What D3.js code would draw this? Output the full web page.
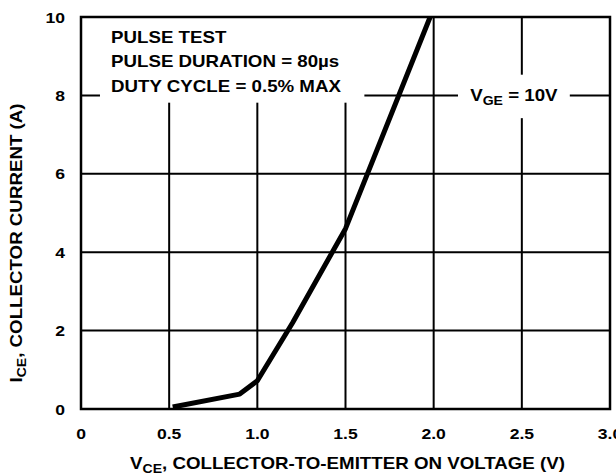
<!DOCTYPE html>
<html lang="en">
<head>
  <meta charset="utf-8">
  <title>Collector Current vs Collector-to-Emitter Voltage</title>
  <script src="https://d3js.org/d3.v7.min.js"></script>
  <style>
    body {
      margin: 0;
      padding: 0;
      background: #fff;
    }
    svg text {
      font-family: "Liberation Sans", Arial, Helvetica, sans-serif;
      font-weight: bold;
      fill: #000;
    }
  </style>
</head>
<body>
  <div id="chart"></div>

  <script>
    // Data (V_CE in volts, I_CE in amps)
    const vce = [0.52, 0.9, 1.0, 1.2, 1.5, 1.98];
    const ice = [0.05, 0.38, 0.72, 2.2, 4.6, 10];

    const xTicks = [0, 0.5, 1.0, 1.5, 2.0, 2.5, 3.0];
    const xTickLabels = ["0", "0.5", "1.0", "1.5", "2.0", "2.5", "3.0"];
    const yTicks = [0, 2, 4, 6, 8, 10];
    const yTickLabels = ["0", "2", "4", "6", "8", "10"];

    const noteLines = ["PULSE TEST", "PULSE DURATION = 80\u00b5s", "DUTY CYCLE = 0.5% MAX"];

    // Layout
    const W = 616, H = 476;
    const margin = { top: 17, right: 6, bottom: 67, left: 81 };
    const width = W - margin.left - margin.right;
    const height = H - margin.top - margin.bottom;
    const SX = 1.17; // the original lettering is wider than Arial bold

    const svg = d3.select("#chart")
      .append("svg")
      .attr("width", W)
      .attr("height", H);

    const g = svg.append("g")
      .attr("transform", `translate(${margin.left},${margin.top})`);

    const x = d3.scaleLinear().domain([0, 3]).range([0, width]);
    const y = d3.scaleLinear().domain([0, 10]).range([height, 0]);

    // place a text at (px, py), stretched horizontally
    function place(sel, px, py, rot) {
      return sel.attr("transform", `translate(${px},${py})` + (rot ? ` rotate(${rot})` : "") + ` scale(${SX},1)`);
    }

    // Grid lines
    g.selectAll(".vgrid")
      .data(xTicks.slice(1, -1))
      .enter()
      .append("line")
      .attr("class", "vgrid")
      .attr("x1", d => x(d)).attr("x2", d => x(d))
      .attr("y1", 0).attr("y2", height)
      .attr("stroke", "#000")
      .attr("stroke-width", 2);

    g.selectAll(".hgrid")
      .data(yTicks.slice(1, -1))
      .enter()
      .append("line")
      .attr("class", "hgrid")
      .attr("x1", 0).attr("x2", width)
      .attr("y1", d => y(d)).attr("y2", d => y(d))
      .attr("stroke", "#000")
      .attr("stroke-width", 2);

    // Test-condition note with white box over the grid
    const noteBox = g.append("rect").attr("fill", "#fff");
    const noteX = x(0.17), noteY = y(10) + 26;
    const note = place(g.append("text"), noteX, noteY)
      .style("font-size", "16px");
    note.selectAll("tspan")
      .data(noteLines)
      .enter()
      .append("tspan")
      .attr("x", 0)
      .attr("dy", (d, i) => i === 0 ? 0 : 24.5)
      .text(d => d);
    const nb = note.node().getBBox();
    noteBox
      .attr("x", noteX - 11)
      .attr("y", 1)
      .attr("width", nb.width * SX + 34)
      .attr("height", noteY + nb.y + nb.height + 6);

    // V_GE label on the 8 A grid line
    const vgeBox = g.append("rect").attr("fill", "#fff");
    const vgeX = x(2.455), vgeY = y(8) + 6;
    const vge = place(g.append("text"), vgeX, vgeY)
      .attr("text-anchor", "middle")
      .style("font-size", "16px");
    vge.append("tspan").text("V");
    vge.append("tspan").attr("dy", 4).style("font-size", "12px").text("GE");
    vge.append("tspan").attr("dy", -4).text(" = 10V");
    const vb = vge.node().getBBox();
    vgeBox
      .attr("x", vgeX - vb.width * SX / 2 - 12)
      .attr("y", vgeY + vb.y - 12)
      .attr("width", vb.width * SX + 24)
      .attr("height", vb.height + 22);

    // Frame
    g.append("rect")
      .attr("x", 0).attr("y", 0)
      .attr("width", width).attr("height", height)
      .attr("fill", "none")
      .attr("stroke", "#000")
      .attr("stroke-width", 2.5);

    // Curve
    const line = d3.line()
      .x((d, i) => x(vce[i]))
      .y((d, i) => y(ice[i]));

    g.append("path")
      .datum(vce)
      .attr("d", line)
      .attr("fill", "none")
      .attr("stroke", "#000")
      .attr("stroke-width", 5)
      .attr("stroke-linejoin", "round");

    // Tick labels
    g.selectAll(".xlab")
      .data(xTicks)
      .enter()
      .append("text")
      .attr("class", "xlab")
      .attr("transform", d => `translate(${x(d)},${height + 30}) scale(${SX},1)`)
      .attr("text-anchor", "middle")
      .style("font-size", "15px")
      .text((d, i) => xTickLabels[i]);

    g.selectAll(".ylab")
      .data(yTicks)
      .enter()
      .append("text")
      .attr("class", "ylab")
      .attr("transform", d => `translate(-16,${y(d) + 5.5}) scale(${SX},1)`)
      .attr("text-anchor", "end")
      .style("font-size", "15px")
      .text((d, i) => yTickLabels[i]);

    // Axis titles
    const xTitle = place(svg.append("text"), margin.left + width / 2 + 2, 469)
      .attr("text-anchor", "middle")
      .style("font-size", "16px");
    xTitle.append("tspan").text("V");
    xTitle.append("tspan").attr("dy", 4).style("font-size", "12px").text("CE");
    xTitle.append("tspan").attr("dy", -4).text(", COLLECTOR-TO-EMITTER ON VOLTAGE (V)");

    const yTitle = place(svg.append("text"), 22, 243, -90)
      .attr("text-anchor", "middle")
      .style("font-size", "16px");
    yTitle.append("tspan").text("I");
    yTitle.append("tspan").attr("dy", 4).style("font-size", "12px").text("CE");
    yTitle.append("tspan").attr("dy", -4).text(", COLLECTOR CURRENT (A)");
  </script>
</body>
</html>
